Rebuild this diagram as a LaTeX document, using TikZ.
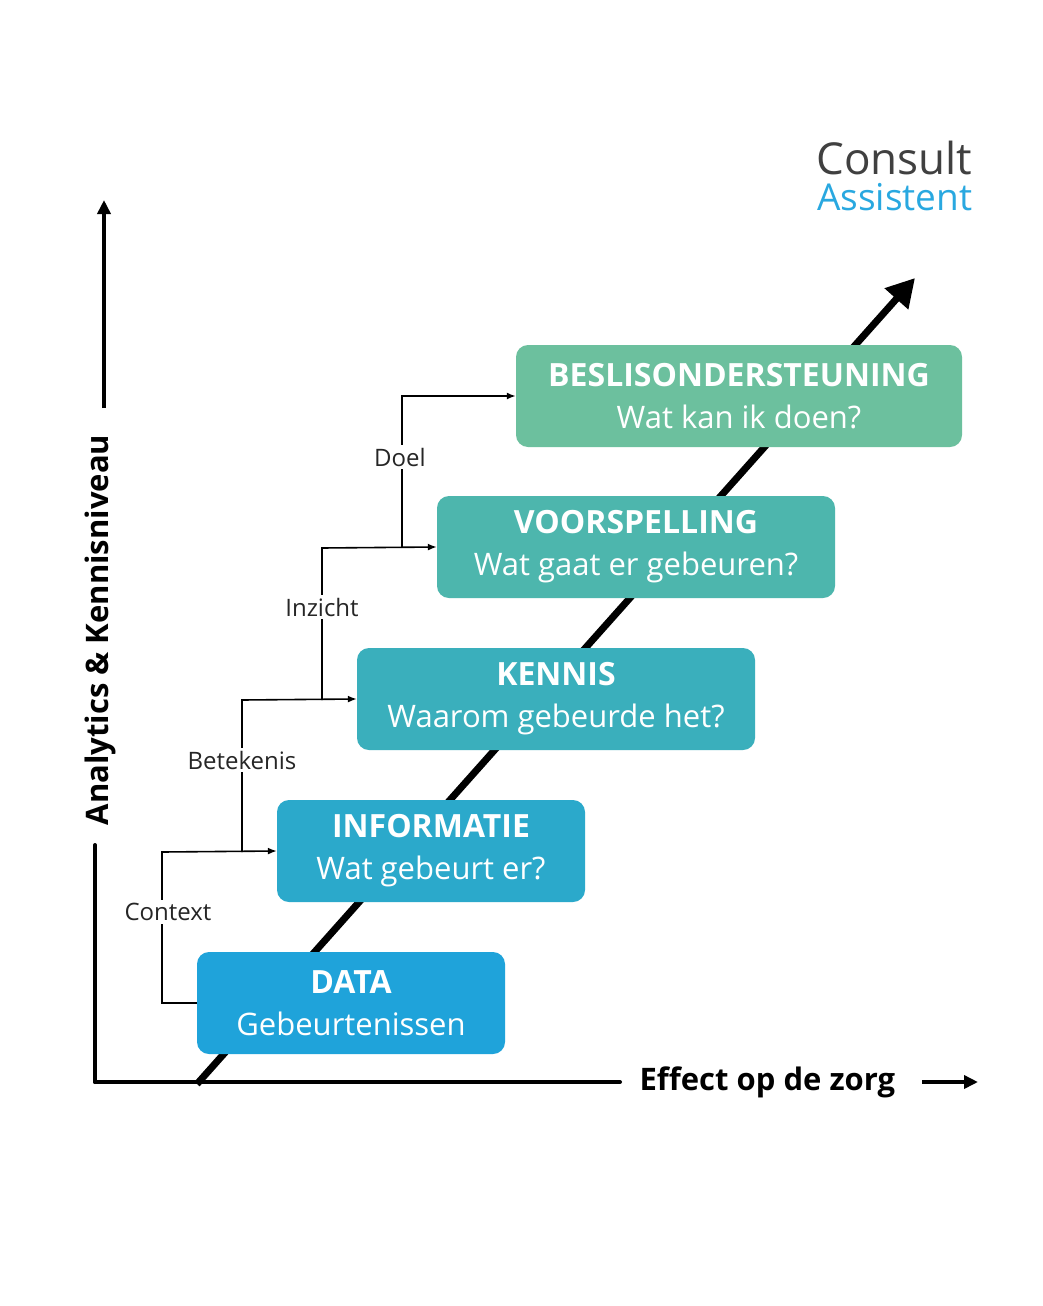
\documentclass[tikz,border=0pt]{standalone}
\usepackage{fontspec}
\setmainfont{Open Sans}
\usetikzlibrary{arrows.meta}
\definecolor{c1}{HTML}{1FA3DA}
\definecolor{c2}{HTML}{2BA9CB}
\definecolor{c3}{HTML}{3AAFBC}
\definecolor{c4}{HTML}{4DB6AD}
\definecolor{c5}{HTML}{6CC09E}
\definecolor{logoblue}{HTML}{29A8E0}
\newcommand{\hd}[1]{{\fontsize{32}{42}\selectfont\bfseries #1}}
\begin{document}
\begin{tikzpicture}[x=1pt,y=-1pt,
  box/.style={rounded corners=12pt,text=white,align=center,inner sep=0pt,
    font=\fontsize{31}{42}\selectfont},
  conn/.style={line width=1.6pt,-{Latex[length=9pt,width=7pt]}},
  lab/.style={fill=white,inner sep=3pt,font=\fontsize{24}{26}\selectfont,text=black!85}]
\useasboundingbox (0,0) rectangle (1043,1306);
\fill[white] (0,0) rectangle (1043,1306);
% diagonal
\coordinate (d0) at (197,1084);
\coordinate (d1) at (915,278);
\draw[line width=7pt,-{Triangle[length=28pt,width=30pt]}] (d0) -- (d1);
% boxes
\node[box,fill=c1,minimum width=308pt,minimum height=102pt] (data) at (351,1003) {\hd{DATA}\\Gebeurtenissen};
\node[box,fill=c2,minimum width=308pt,minimum height=102pt] (info) at (431,851) {\hd{INFORMATIE}\\Wat gebeurt er?};
\node[box,fill=c3,minimum width=398pt,minimum height=102pt] (ken) at (556,699) {\hd{KENNIS}\\Waarom gebeurde het?};
\node[box,fill=c4,minimum width=398pt,minimum height=102pt] (voor) at (636,547) {\hd{VOORSPELLING}\\Wat gaat er gebeuren?};
\node[box,fill=c5,minimum width=446pt,minimum height=102pt] (bes) at (739,396) {\hd{BESLISONDERSTEUNING}\\Wat kan ik doen?};
% connectors
\draw[conn] (data.west) -- (162,1003) -- (162,852) -- (info.west);
\node[lab] (l1) at (168,912) {Context};
\draw[conn] (242,852) -- (242,700) -- (ken.west);
\node[lab] (l2) at (242,760) {Betekenis};
\draw[conn] (322,700) -- (322,548) -- (voor.west);
\node[lab] (l3) at (322,607) {Inzicht};
\draw[conn] (402,548) -- (402,396) -- (bes.west);
\node[lab] (l4) at (400,457) {Doel};
% axes
\coordinate (o) at (95,1082);
\coordinate (ytop) at (104,200);
\draw[line width=4pt,line cap=round] (o) -- (95,845);
\draw[line width=4pt,-{Triangle[length=14pt,width=13pt]}] (104,408) -- (ytop);
\node[rotate=90,font=\fontsize{31}{34}\selectfont\bfseries] (ylab) at (100,630) {Analytics \& Kennisniveau};
\draw[line width=4pt,line cap=round] (o) -- (620,1082);
\node[font=\fontsize{31}{34}\selectfont\bfseries,anchor=west] (xlab) at (636,1082) {Effect op de zorg};
\coordinate (xa) at (922,1082);
\coordinate (xb) at (978,1082);
\draw[line width=4pt,-{Triangle[length=14pt,width=13pt]}] (xa) -- (xb);
% logo
\node[anchor=east,font=\fontsize{44}{48}\selectfont,text=black!75] (lc) at (976,158) {Consult};
\node[anchor=east,font=\fontsize{37}{40}\selectfont,text=logoblue] (la) at (976,197) {Assistent};
\end{tikzpicture}
\end{document}
